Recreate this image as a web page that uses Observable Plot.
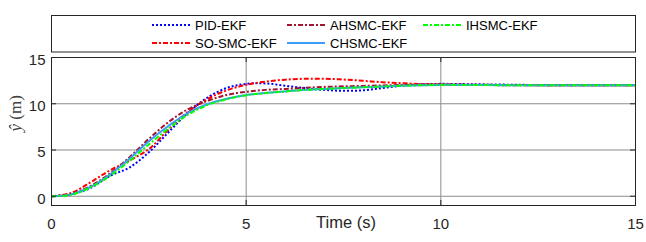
<!DOCTYPE html>
<html><head><meta charset="utf-8">
<script src="https://cdn.jsdelivr.net/npm/d3@7"></script>
<script src="https://cdn.jsdelivr.net/npm/@observablehq/plot@0.6"></script>
<style>
body{margin:0;background:#fff;}
#wrap{position:relative;width:646px;height:242px;}
</style></head><body><div id="wrap"></div>
<script>
// ---- data ----
const time = [0,0.5,1,1.5,2,2.5,3,3.5,4,4.5,5,5.5,6,6.5,7,7.5,8,8.5,9,9.5,10,11,12,13,14,15];
const pidEkf   = [0,0.2,0.9,2.2,3.1,4.75,6.9,9.0,10.65,11.7,12.15,12.2,11.95,11.7,11.5,11.4,11.45,11.7,11.95,12.1,12.15,12.1,12.05,12.0,12.0,12.0];
const soSmcEkf = [0,0.35,1.5,2.8,3.85,5.1,7.2,9.1,10.5,11.45,12.05,12.4,12.6,12.7,12.7,12.62,12.48,12.33,12.22,12.13,12.08,12.03,12.0,12.0,12.0,12.0];
const ahsmcEkf = [0,0.25,1.1,2.45,4.2,6.2,8.0,9.4,10.3,10.95,11.3,11.5,11.6,11.72,11.82,11.88,11.93,11.98,12.03,12.06,12.08,12.05,12.02,12.0,12.0,12.0];
const chsmcEkf = [0,0.2,1.0,2.35,4.05,5.95,7.6,9.0,9.95,10.55,10.95,11.17,11.33,11.5,11.6,11.7,11.78,11.86,11.94,12.0,12.04,12.02,12.0,12.0,12.0,12.0];
const ihsmcEkf = [0,0.15,0.95,2.2,3.8,5.6,7.3,8.8,9.85,10.5,10.92,11.15,11.33,11.5,11.6,11.7,11.78,11.86,11.94,12.0,12.04,12.02,12.0,12.0,12.0,12.0];
const seriesNames  = ["PID-EKF","SO-SMC-EKF","AHSMC-EKF","CHSMC-EKF","IHSMC-EKF"];
const seriesValues = [pidEkf, soSmcEkf, ahsmcEkf, chsmcEkf, ihsmcEkf];
const xTicks = [0,5,10,15];
const yTicks = [0,5,10,15];
const xLabel = "Time (s)";
const yLabel = "ŷ (m)";

// ---- styles ----
const colors = {"PID-EKF":"#0000ff","SO-SMC-EKF":"#ff0000","AHSMC-EKF":"#a2142f","CHSMC-EKF":"#3d9cf5","IHSMC-EKF":"#00ff00"};
const dashes = {"PID-EKF":"2,2","SO-SMC-EKF":"5,2,2,2","AHSMC-EKF":"5,2,2,2","CHSMC-EKF":"none","IHSMC-EKF":"5,2,2,2"};
const klass  = {"PID-EKF":"s-pid","SO-SMC-EKF":"s-so","AHSMC-EKF":"s-ah","CHSMC-EKF":"s-ch","IHSMC-EKF":"s-ih"};

const W = 646, H = 242, mL = 51, mR = 11, mT = 57, mB = 37;
const rows = seriesNames.map((n, i) => time.map((t, j) => ({t, v: seriesValues[i][j], s: n})));
const fw = W - mL - mR, fh = H - mT - mB;
const tickLen = 5;
const font = "'Liberation Sans', Arial, Helvetica, sans-serif";

const chart = Plot.plot({
  width: W, height: H,
  marginLeft: mL, marginRight: mR, marginTop: mT, marginBottom: mB,
  style: {fontFamily: font, background: "#fff", overflow: "visible"},
  x: {domain: [0, 15]},
  y: {domain: [-1, 15]},
  marks: [
    Plot.gridX(xTicks.filter(d => d > 0 && d < 15), {stroke: "#8c8c8c", strokeOpacity: 1}),
    Plot.gridY(yTicks.filter(d => d < 15), {stroke: "#8c8c8c", strokeOpacity: 1}),
    ...rows.map((r, i) => Plot.line(r, {
      x: "t", y: "v", stroke: colors[seriesNames[i]], strokeWidth: 2,
      strokeDasharray: dashes[seriesNames[i]], curve: "catmull-rom",
      className: klass[seriesNames[i]]
    })),
    // inward ticks
    Plot.tickY(yTicks, {y: d => d, stroke: "#262626", insetRight: fw - tickLen}),
    Plot.tickY(yTicks, {y: d => d, stroke: "#262626", insetLeft: fw - tickLen}),
    Plot.tickX(xTicks, {x: d => d, stroke: "#262626", insetTop: fh - tickLen}),
    Plot.tickX(xTicks, {x: d => d, stroke: "#262626", insetBottom: fh - tickLen}),
    Plot.frame({stroke: "#262626", strokeWidth: 1}),
    Plot.axisX(xTicks, {tickSize: 0, tickPadding: 13, fontSize: 15, fill: "#262626", label: null}),
    Plot.axisY(yTicks, {tickSize: 0, tickPadding: 6, fontSize: 15, fill: "#262626", label: null, dy: 2.5}),
    Plot.text([xLabel], {frameAnchor: "bottom", text: d => d, fontSize: 16.5, fill: "#262626", dy: 22, dx: 2.5}),
    Plot.text([yLabel], {frameAnchor: "left", text: d => d, fontSize: 17, fill: "#404040", rotate: -90, dx: -36, className: "ylab"})
  ]
});
document.getElementById("wrap").appendChild(chart);
const svg = d3.select(chart);

// make sure the dash patterns land on the drawn paths
seriesNames.forEach(n => {
  svg.selectAll("g." + klass[n] + " path").attr("stroke-dasharray", dashes[n]).attr("stroke-linecap", "butt");
});

// y label: italic serif ŷ, upright (m)
svg.selectAll("g.ylab text").each(function() {
  const t = d3.select(this);
  t.text(null).attr("font-family", "'Liberation Serif',serif");
  t.append("tspan").attr("font-style", "italic").text(yLabel.split(" ")[0]);
  t.append("tspan").text(" " + yLabel.split(" ").slice(1).join(" "));
});

// legend
const leg = svg.append("g").attr("font-family", font).attr("font-size", 13).attr("text-anchor", "start");
leg.append("rect").attr("x", 51.5).attr("y", 15.5).attr("width", 584).attr("height", 36.5)
  .attr("fill", "#fff").attr("stroke", "#262626");
const legPos = {
  "PID-EKF": [152, 25], "AHSMC-EKF": [287, 25], "IHSMC-EKF": [423, 25],
  "SO-SMC-EKF": [152, 43], "CHSMC-EKF": [287, 43]
};
seriesNames.forEach(n => {
  const [x, y] = legPos[n];
  leg.append("line").attr("x1", x).attr("x2", x + 38).attr("y1", y).attr("y2", y)
    .attr("stroke", colors[n]).attr("stroke-width", 2)
    .attr("stroke-dasharray", dashes[n]);
  leg.append("text").attr("x", x + 43).attr("y", y).attr("dy", "0.35em")
    .attr("text-anchor", "start").attr("fill", "#000").text(n);
});
</script></body></html>
